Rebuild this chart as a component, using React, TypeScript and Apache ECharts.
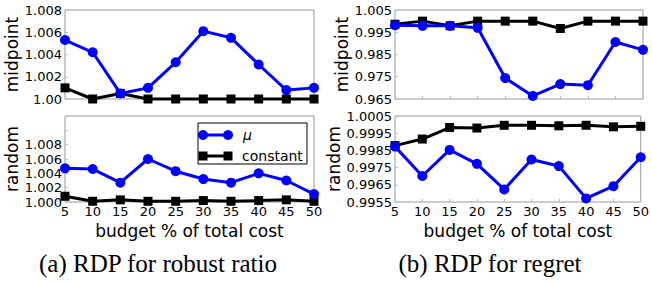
import React, { useEffect, useRef } from "react";
import * as echarts from "echarts";

const budgets = [5, 10, 15, 20, 25, 30, 35, 40, 45, 50];

const ratioMidMu = [1.0053, 1.0042, 1.0005, 1.001, 1.0033, 1.0061, 1.0055, 1.0031, 1.0008, 1.001];
const ratioMidConst = [1.001, 1.0, 1.0005, 1.0, 1.0, 1.0, 1.0, 1.0, 1.0, 1.0];
const ratioRandMu = [1.0047, 1.0046, 1.0027, 1.006, 1.0043, 1.0032, 1.0027, 1.004, 1.003, 1.0011];
const ratioRandConst = [1.0008, 1.0001, 1.0003, 1.0001, 1.0001, 1.0002, 1.0001, 1.0002, 1.0003, 1.0001];

const regretMidMu = [0.9982, 0.9979, 0.9979, 0.997, 0.9744, 0.9664, 0.9717, 0.9712, 0.9906, 0.9871];
const regretMidConst = [0.9986, 1.0, 0.9979, 1.0, 1.0, 1.0, 0.9967, 1.0, 1.0, 1.0];
const regretRandMu = [0.99872, 0.99701, 0.99853, 0.99772, 0.99623, 0.99797, 0.99759, 0.99571, 0.99642, 0.9981];
const regretRandConst = [0.99878, 0.99916, 0.99983, 0.9998, 0.99996, 0.99996, 0.99993, 0.99996, 0.99987, 0.9999];

const seriesNames = ["\u03bc", "constant"];
const xLabel = "budget % of total cost";
const captions = ["(a) RDP for robust ratio", "(b) RDP for regret"];

const FONT = "DejaVu Sans";
const BLUE = "#0000ff";

export default function App() {
  const ref = useRef<HTMLDivElement>(null);
  useEffect(() => {
    if (!ref.current) return;
    const chart = echarts.init(ref.current, undefined, { renderer: "svg" });

    const grids = [
      { left: 65, top: 10, width: 249, height: 89 },
      { left: 65, top: 116, width: 249, height: 86 },
      { left: 395, top: 10, width: 248, height: 89 },
      { left: 395, top: 116, width: 248, height: 86 },
    ].map((g) => ({ ...g, show: true, borderColor: "#999", borderWidth: 1, backgroundColor: "#fff" }));

    const xAxes = grids.map((_, i) => ({
      type: "value",
      gridIndex: i,
      min: 5,
      max: 50,
      interval: 5,
      axisLine: { show: false },
      splitLine: { show: false },
      axisTick: { show: true, inside: true, length: 3, lineStyle: { color: "#bbb" } },
      axisLabel: {
        show: i === 1 || i === 3,
        color: "#000",
        fontFamily: FONT,
        fontSize: 13,
        margin: 3,
        showMinLabel: true,
        showMaxLabel: true,
      },
      name: i === 1 || i === 3 ? xLabel : "",
      nameLocation: "middle",
      nameGap: 20,
      nameTextStyle: { color: "#000", fontFamily: FONT, fontSize: 17 },
    }));

    const yCfg = [
      { min: 1.0, max: 1.008, interval: 0.002, fmt: (v: number) => (Math.abs(v - 1) < 1e-9 ? "1.00" : v.toFixed(3)), name: "midpoint", gap: 42 },
      { min: 1.0, max: 1.012, interval: 0.002, fmt: (v: number) => (v > 1.0085 ? "" : v.toFixed(3)), name: "random", gap: 42 },
      { min: 0.965, max: 1.005, interval: 0.01, fmt: (v: number) => v.toFixed(3), name: "midpoint", gap: 44 },
      { min: 0.9955, max: 1.0005, interval: 0.001, fmt: (v: number) => v.toFixed(4), name: "random", gap: 44 },
    ];

    const yAxes = yCfg.map((c, i) => ({
      type: "value",
      gridIndex: i,
      min: c.min,
      max: c.max,
      interval: c.interval,
      axisLine: { show: false },
      splitLine: { show: false },
      axisTick: { show: true, inside: true, length: 3, lineStyle: { color: "#bbb" } },
      axisLabel: {
        color: "#000",
        fontFamily: FONT,
        fontSize: 13,
        margin: 3,
        formatter: c.fmt,
        showMinLabel: true,
        showMaxLabel: true,
      },
      name: c.name,
      nameLocation: "middle",
      nameRotate: 90,
      nameGap: c.gap,
      nameTextStyle: { color: "#000", fontFamily: FONT, fontSize: 17 },
    }));

    const data = [
      [ratioMidMu, ratioMidConst],
      [ratioRandMu, ratioRandConst],
      [regretMidMu, regretMidConst],
      [regretRandMu, regretRandConst],
    ];

    const series: any[] = [];
    data.forEach((pair, i) => {
      series.push({
        type: "line",
        name: seriesNames[1],
        xAxisIndex: i,
        yAxisIndex: i,
        data: budgets.map((b, k) => [b, pair[1][k]]),
        symbol: "rect",
        symbolSize: 9,
        showAllSymbol: true,
        lineStyle: { color: "#000", width: 3 },
        itemStyle: { color: "#000" },
        clip: false,
        z: 2,
      });
      series.push({
        type: "line",
        name: seriesNames[0],
        xAxisIndex: i,
        yAxisIndex: i,
        data: budgets.map((b, k) => [b, pair[0][k]]),
        symbol: "circle",
        symbolSize: 10,
        showAllSymbol: true,
        lineStyle: { color: BLUE, width: 3 },
        itemStyle: { color: BLUE },
        clip: false,
        z: 3,
      });
    });

    // Legend box (bottom-left panel)
    const lx = 198, ly = 123;
    const legend = {
      type: "group",
      z: 100,
      children: [
        { type: "rect", shape: { x: lx, y: ly, width: 109, height: 41 }, style: { fill: "#fff", stroke: "#000", lineWidth: 1 } },
        { type: "line", shape: { x1: lx + 5, y1: ly + 12, x2: lx + 30, y2: ly + 12 }, style: { stroke: BLUE, lineWidth: 3 } },
        { type: "circle", shape: { cx: lx + 5, cy: ly + 12, r: 5 }, style: { fill: BLUE } },
        { type: "circle", shape: { cx: lx + 30, cy: ly + 12, r: 5 }, style: { fill: BLUE } },
        { type: "text", x: lx + 45, y: ly + 12, style: { text: seriesNames[0], fontFamily: FONT, fontStyle: "italic", fontSize: 14, fill: "#000", verticalAlign: "middle" } },
        { type: "line", shape: { x1: lx + 5, y1: ly + 33, x2: lx + 30, y2: ly + 33 }, style: { stroke: "#000", lineWidth: 3 } },
        { type: "rect", shape: { x: lx + 0.5, y: ly + 28.5, width: 9, height: 9 }, style: { fill: "#000" } },
        { type: "rect", shape: { x: lx + 25.5, y: ly + 28.5, width: 9, height: 9 }, style: { fill: "#000" } },
        { type: "text", x: lx + 44, y: ly + 33, style: { text: seriesNames[1], fontFamily: FONT, fontSize: 14, fill: "#000", verticalAlign: "middle" } },
      ],
    };

    const captionEls = [
      { type: "text", x: 158, y: 263, style: { text: captions[0], fontFamily: "Liberation Serif", fontSize: 25, fill: "#000", align: "center", verticalAlign: "middle" } },
      { type: "text", x: 490, y: 263, style: { text: captions[1], fontFamily: "Liberation Serif", fontSize: 25, fill: "#000", align: "center", verticalAlign: "middle" } },
    ];

    chart.setOption({
      animation: false,
      backgroundColor: "#fff",
      grid: grids,
      xAxis: xAxes,
      yAxis: yAxes,
      series,
      graphic: [legend, ...captionEls],
    });

    return () => chart.dispose();
  }, []);

  return <div ref={ref} style={{ position: "fixed", left: 0, top: 0, width: 652, height: 282 }} />;
}
